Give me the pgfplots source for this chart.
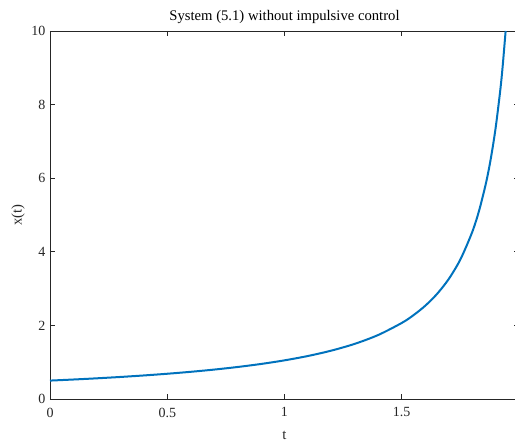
\documentclass[border=0pt]{standalone}
\usepackage{fontspec}
\setmainfont{Liberation Serif}
\usepackage{pgfplots}
\pgfplotsset{compat=1.18}

\definecolor{mblue}{rgb}{0,0.447,0.741}
\definecolor{axgray}{rgb}{0.15,0.15,0.15}

\pgfplotstableread{
t      x
0.00   0.5000
0.10   0.5295
0.20   0.5622
0.30   0.5988
0.40   0.6398
0.50   0.6861
0.60   0.7388
0.70   0.7994
0.80   0.8697
0.90   0.9521
1.00   1.0502
1.10   1.1688
1.20   1.3150
1.30   1.4997
1.40   1.7403
1.50   2.0663
1.55   2.2771
1.60   2.5332
1.65   2.8513
1.70   3.2569
1.75   3.7916
1.80   4.5288
1.83   5.1222
1.86   5.8900
1.88   6.5410
1.90   7.3500
1.92   8.3830
1.93   9.0150
1.943  10.000
}\trajectory

\begin{document}
\begin{tikzpicture}
\begin{axis}[
  name=main,
  scale only axis,
  width=351.75pt, height=276pt,
  xmin=0, xmax=2, ymin=0, ymax=10,
  xtick={0,0.5,1,1.5,2},
  ytick={0,2,4,6,8,10},
  tick align=inside,
  major tick length=3.5pt,
  axis line style={axgray, line width=0.5pt},
  tick style={axgray, line width=0.5pt},
  ticklabel style={font=\fontsize{10.5}{12}\selectfont, text=axgray},
  xticklabel style={yshift=-3pt},
  /pgf/number format/assume math mode=true,
  title={System (5.1) without impulsive control},
  title style={font=\fontsize{11}{13}\selectfont, yshift=-4pt},
  xlabel={t},
  ylabel={x(t)},
  label style={font=\fontsize{11}{13}\selectfont, text=axgray},
  xlabel style={yshift=-3.5pt},
  ylabel style={yshift=-2pt},
  clip=true,
]
\addplot[mblue, line width=1.5pt, smooth] table[x=t, y=x] {\trajectory};
\end{axis}
\pgfresetboundingbox
\path ([xshift=-37.5pt, yshift=-33pt]main.south west) rectangle ++(386.25pt, 332.25pt);
\end{tikzpicture}
\end{document}
